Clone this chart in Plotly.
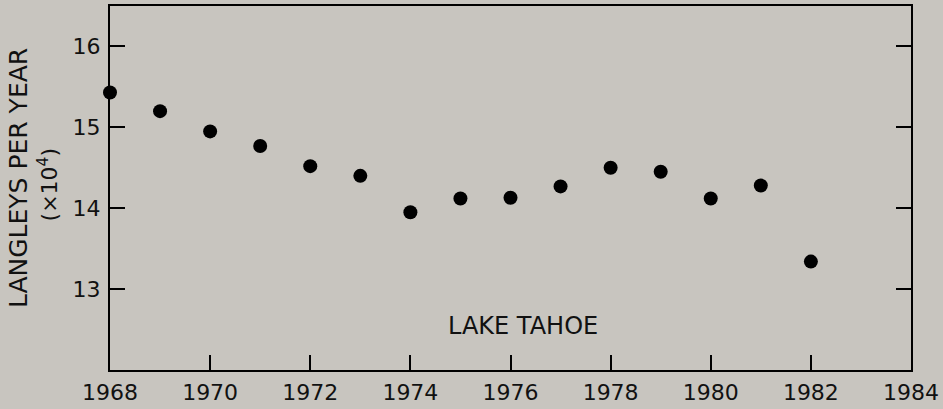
import plotly.graph_objects as go

years = [1968, 1969, 1970, 1971, 1972, 1973, 1974, 1975, 1976, 1977, 1978, 1979, 1980, 1981, 1982]
langleys = [15.43, 15.20, 14.95, 14.77, 14.52, 14.40, 13.95, 14.12, 14.13, 14.27, 14.50, 14.45, 14.12, 14.28, 13.34]
x_ticks = [1968, 1970, 1972, 1974, 1976, 1978, 1980, 1982, 1984]
y_ticks = [13, 14, 15, 16]

bg = "#c8c5bf"
font = "DejaVu Sans"

fig = go.Figure()
fig.add_trace(go.Scatter(
    x=years, y=langleys, mode="markers",
    marker=dict(size=14, color="black"),
    cliponaxis=False, showlegend=False,
))

fig.update_layout(
    width=943, height=409,
    margin=dict(l=110, r=32, t=4, b=37),
    paper_bgcolor=bg, plot_bgcolor=bg,
    font=dict(family=font, color="#111", size=22),
)
fig.update_xaxes(
    range=[1968, 1984], tickvals=x_ticks, ticktext=[str(v) for v in x_ticks],
    showgrid=False, zeroline=False, showline=True, linecolor="black", linewidth=2,
    mirror=True, ticks="inside", ticklen=15, tickwidth=2, tickcolor="black",
    tickfont=dict(size=22), ticklabelstandoff=2,
)
fig.update_yaxes(
    range=[12, 16.5], tickvals=y_ticks, ticktext=[str(v) for v in y_ticks],
    showgrid=False, zeroline=False, showline=True, linecolor="black", linewidth=2,
    mirror="ticks", ticks="inside", ticklen=15, tickwidth=2, tickcolor="black",
    tickfont=dict(size=22), ticklabelstandoff=3,
)
fig.add_annotation(
    text="LANGLEYS PER YEAR", textangle=-90, showarrow=False,
    xref="paper", yref="paper", x=-0.115, y=0.527, xanchor="center", yanchor="middle",
    font=dict(size=25),
)
fig.add_annotation(
    text="(×10<sup>4</sup>)", textangle=-90, showarrow=False,
    xref="paper", yref="paper", x=-0.077, y=0.508, xanchor="center", yanchor="middle",
    font=dict(size=22),
)
fig.add_annotation(
    text="LAKE TAHOE", showarrow=False, xref="x", yref="y",
    x=1976.25, y=12.55, font=dict(size=24),
)
fig.write_html("out.html", config={"displayModeBar": False},
               post_script="document.body.style.margin='0';")
